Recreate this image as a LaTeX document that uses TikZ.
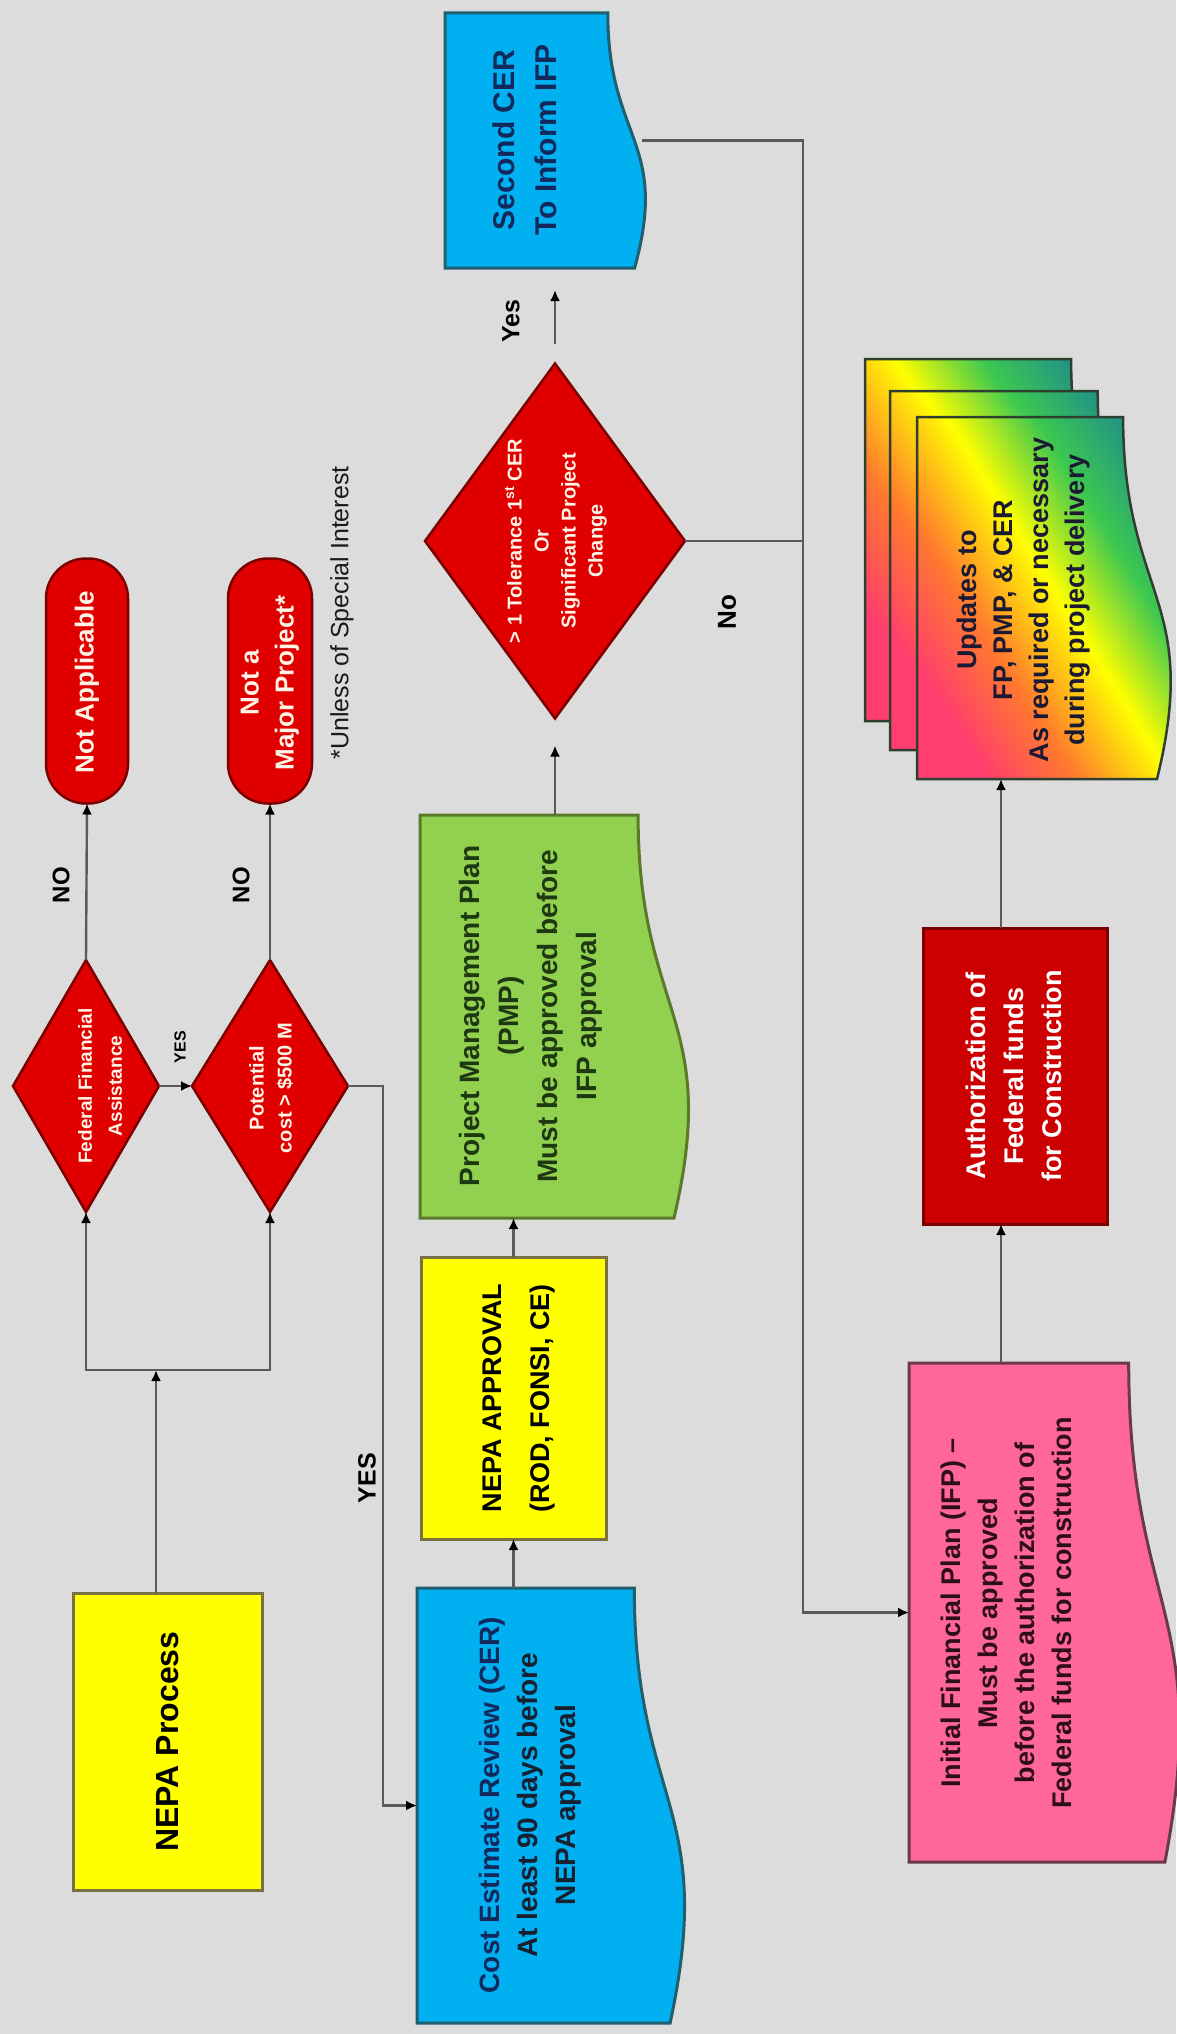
\documentclass[tikz,border=0pt]{standalone}
\usepackage{fontspec}
\setmainfont{Liberation Sans}
\usetikzlibrary{shapes.geometric,arrows.meta}
\definecolor{bg}{HTML}{DCDCDC}
\definecolor{lineg}{HTML}{5A5A5A}
\definecolor{yel}{HTML}{FFFF00}
\definecolor{olivb}{HTML}{7A7040}
\definecolor{cyanb}{HTML}{00B0F0}
\definecolor{cerb}{HTML}{1F5F70}
\definecolor{greenb}{HTML}{92D050}
\definecolor{pmpb}{HTML}{5A7A2A}
\definecolor{pinkb}{HTML}{FF6699}
\definecolor{ifpb}{HTML}{6A3A4A}
\definecolor{mred}{HTML}{E00000}
\definecolor{dred}{HTML}{7A0000}
\definecolor{authf}{HTML}{CC0000}
\definecolor{cream}{HTML}{FFF4E6}
\definecolor{navy}{HTML}{13295E}
\definecolor{dgreen}{HTML}{1E3812}
\definecolor{maroon}{HTML}{2E0E18}
\definecolor{udark}{HTML}{1C1A33}
\definecolor{txtd}{HTML}{1A1A1A}
\definecolor{updb}{HTML}{2F3F2F}
\definecolor{uR}{HTML}{FF3D6E}
\definecolor{uO}{HTML}{FF7A2E}
\definecolor{uY}{HTML}{FFFF00}
\definecolor{uG}{HTML}{3CC850}
\definecolor{uT}{HTML}{1E8C8C}
\pgfdeclarehorizontalshading{rainbowud}{100bp}{color(0bp)=(uR); color(25bp)=(uR); color(37bp)=(uO); color(50bp)=(uY); color(62bp)=(uG); color(75bp)=(uT); color(100bp)=(uT)}
\newcommand\myfs[2]{\fontsize{#1}{#2}\selectfont\bfseries}
\begin{document}
\begin{tikzpicture}[x=1pt,y=-1pt,
  lbl/.style={rotate=90, align=center, inner sep=0pt},
  conn/.style={draw=lineg, line width=2.4pt},
  arr/.style={conn, -{Latex[length=11pt,width=10pt,color=black]}},
  anc/.style={draw=none, inner sep=0pt, outer sep=0pt, rectangle},
  diam/.style={diamond, draw=dred, fill=mred, line width=2.5pt, inner sep=0pt, outer sep=0pt},
  term/.style={rectangle, rounded corners=40pt, draw=dred, fill=mred, line width=2.5pt, inner sep=0pt, outer sep=0pt},
  boxst/.style={rectangle, line width=3pt, inner sep=0pt, outer sep=0pt}
]
\useasboundingbox (0,0) rectangle (1176,2034);
\fill[bg] (0,0) rectangle (1176,2034);

% ---------- NEPA Process
\node[boxst, draw=olivb, fill=yel, minimum width=189pt, minimum height=297pt] (nepa) at (167.5,1741.5) {};
\node[lbl, font=\myfs{32}{38}] (tnepa) at (nepa.center) {NEPA Process};

% ---------- decisions
\node[diam, minimum width=146pt, minimum height=252pt] (d1) at (86,1086) {};
\node[lbl, text=cream, font=\myfs{19}{30}] (td1) at (100,1086) {\bfseries Federal Financial\\Assistance};
\node[diam, minimum width=156pt, minimum height=252pt] (d2) at (270,1086) {};
\node[lbl, text=cream, font=\myfs{20}{28}] (td2) at (271,1088) {\bfseries Potential\\cost > \$500 M};

% ---------- terminals
\node[term, minimum width=82pt, minimum height=245pt] (notapp) at (87,681) {};
\node[lbl, text=cream, font=\myfs{26}{30}] (tnotapp) at (87,682) {Not Applicable};
\node[term, minimum width=84pt, minimum height=245pt] (notmaj) at (270,681) {};
\node[lbl, text=cream, font=\myfs{26}{35}] (tnotmaj) at (270,683) {\bfseries Not a\\Major Project*};
\node[lbl, text=txtd, font=\fontsize{25}{27}\selectfont] (unless) at (342,613) {*Unless of Special Interest};

% ---------- CER document
\draw[line width=3pt, draw=cerb, fill=cyanb] (417,1588) -- (634.3,1588) .. controls (634.3,1805.5) and (717.1,1805.5) .. (670.1,2023) -- (417,2023) -- cycle;
\node[anc, minimum width=217pt, minimum height=435pt] (cer) at (525.5,1805.5) {};
\node[lbl, text=navy, font=\myfs{28}{38}] (tcer) at (530,1805) {Cost Estimate Review (CER)\\\color{txtd!70!navy}At least 90 days before\\\color{txtd!70!navy}NEPA approval};

% ---------- NEPA approval
\node[boxst, draw=olivb, fill=yel, minimum width=185pt, minimum height=282pt] (nepaapp) at (513.5,1398) {};
\node[lbl, font=\myfs{27}{48}] (tnepaapp) at (519,1398) {\bfseries NEPA APPROVAL\\(ROD, FONSI, CE)};

% ---------- PMP document
\draw[line width=3pt, draw=pmpb, fill=greenb] (420,815) -- (638.1,815) .. controls (638.1,1016.5) and (721.2,1016.5) .. (674,1218) -- (420,1218) -- cycle;
\node[anc, minimum width=218pt, minimum height=403pt] (pmp) at (529,1016.5) {};
\node[lbl, text=dgreen, font=\myfs{28}{39}] (tpmp) at (531,1016) {Project Management Plan\\(PMP)\\Must be approved before\\IFP approval};

% ---------- tolerance decision
\node[diam, minimum width=260pt, minimum height=355pt] (d3) at (555,541) {};
\node[lbl, text=cream, font=\myfs{20}{27}] (td3) at (556,541) {\bfseries > 1 Tolerance 1\textsuperscript{st} CER\\Or\\Significant Project\\Change};

% ---------- Second CER document
\draw[line width=3pt, draw=cerb, fill=cyanb] (445,13) -- (607.8,13) .. controls (607.8,140.5) and (669.8,140.5) .. (634.6,268) -- (445,268) -- cycle;
\node[anc, minimum width=163pt, minimum height=255pt] (second) at (526.5,140.5) {};
\node[lbl, text=navy, font=\myfs{30}{42}] (tsecond) at (525,140) {\bfseries Second CER\\To Inform IFP};
\coordinate (secr) at (642,140.5);

% ---------- IFP document
\draw[line width=3pt, draw=ifpb, fill=pinkb] (909,1363) -- (1128.7,1363) .. controls (1128.7,1612.5) and (1212.5,1612.5) .. (1164.9,1862) -- (909,1862) -- cycle;
\node[anc, minimum width=220pt, minimum height=499pt] (ifp) at (1019,1612.5) {};
\node[lbl, text=maroon, font=\myfs{27}{37}] (tifp) at (1006,1613) {Initial Financial Plan (IFP) \textendash\\Must be approved\\before the authorization of\\Federal funds for construction};

% ---------- Authorization
\node[boxst, draw=dred, fill=authf, line width=3pt, minimum width=184pt, minimum height=296pt] (auth) at (1015,1076) {};
\node[lbl, text=white, font=\myfs{27}{38}] (tauth) at (1014,1076) {\bfseries Authorization of\\Federal funds\\for Construction};

% ---------- Updates multi-document
\shadedraw[shading=rainbowud, shading angle=32, draw=updb, line width=2.5pt] (865,359) -- (1071.1,359) .. controls (1071.1,540) and (1149.6,540) .. (1105,721) -- (865,721) -- cycle;
\shadedraw[shading=rainbowud, shading angle=32, draw=updb, line width=2.5pt] (890,391) -- (1097.7,391) .. controls (1097.7,570.5) and (1176.8,570.5) .. (1131.9,750) -- (890,750) -- cycle;
\shadedraw[shading=rainbowud, shading angle=32, draw=updb, line width=2.5pt] (917,417) -- (1123.1,417) .. controls (1123.1,598) and (1201.6,598) .. (1157,779) -- (917,779) -- cycle;
\node[anc, minimum width=206pt, minimum height=362pt] (upd) at (1020,598) {};
\node[lbl, text=udark, font=\myfs{27}{36}] (tupd) at (1024,600) {\bfseries Updates to\\FP, PMP, \& CER\\As required or necessary\\during project delivery};

% ---------- connectors
\coordinate (j1) at (156,1370);
\coordinate (j2) at (383,1086);
\coordinate (j3) at (803,140.5);
\draw[arr] (nepa.north -| j1) -- (j1);
\draw[arr] (j1) -| (d1.south);
\draw[arr] (j1) -| (d2.south);
\draw[arr] (d1.east) -- (d2.west);
\draw[arr] (d1.north) -- (notapp.south);
\draw[arr] (d2.north) -- (notmaj.south);
\draw[arr] (d2.east) -- (j2) |- (cer.west);
\draw[arr] (cer.north -| nepaapp.south) -- (nepaapp.south);
\draw[arr] (nepaapp.north) -- (nepaapp.north |- pmp.south);
\draw[arr, shorten >=27pt] (d3.south |- pmp.north) -- (d3.south);
\draw[arr, shorten <=20pt, shorten >=22pt] (d3.north) -- (d3.north |- second.south);
\draw[conn] (d3.east) -- (d3.east -| j3);
\draw[arr] (secr) -- (j3) |- (ifp.west);
\draw[arr] ([xshift=-18pt]ifp.north) -- ([xshift=-18pt]ifp.north |- auth.south);
\draw[arr] ([xshift=-14pt]auth.north) -- ([xshift=-14pt]auth.north |- upd.south);

% ---------- connector labels
\node[lbl, font=\myfs{16}{18}] (lyes1) at (180,1047) {YES};
\node[lbl, font=\myfs{24}{26}] (lno1) at (61,885) {NO};
\node[lbl, font=\myfs{24}{26}] (lno2) at (241,885) {NO};
\node[lbl, font=\myfs{25}{27}] (lyes2) at (367,1478) {YES};
\node[lbl, font=\myfs{25}{27}] (lyes3) at (511,321) {Yes};
\node[lbl, font=\myfs{26}{28}] (lno3) at (727,612) {No};
\end{tikzpicture}
\end{document}
